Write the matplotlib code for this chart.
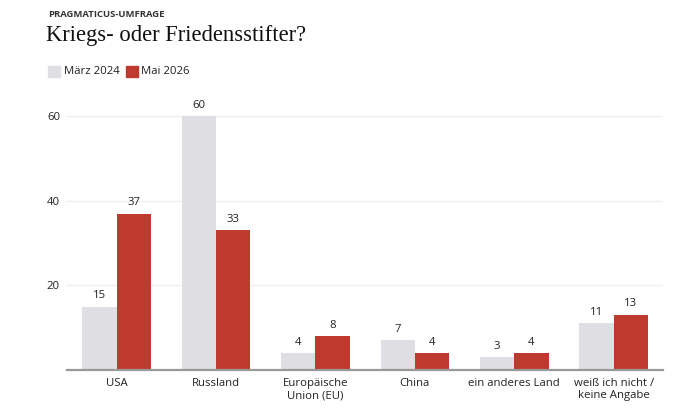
import numpy as np
import matplotlib
matplotlib.use("Agg")
import matplotlib.pyplot as plt
from matplotlib.patches import Rectangle

# Data
categories = ["USA", "Russland", "Europäische\nUnion (EU)", "China",
              "ein anderes Land", "weiß ich nicht /\nkeine Angabe"]
maerz_2024 = [15, 60, 4, 7, 3, 11]
mai_2026 = [37, 33, 8, 4, 4, 13]
series_names = ["März 2024", "Mai 2026"]
yticks = [20, 40, 60]

gray = "#dfdfe3"
red = "#bf3a2e"
text_col = "#222222"

plt.rcParams["font.family"] = ["Open Sans", "DejaVu Sans"]

fig = plt.figure(figsize=(6.8, 4.12), dpi=100)
ax = fig.add_axes([0.0985, 0.102, 0.877, 0.667])

x = np.arange(len(categories))
w = 0.345
b1 = ax.bar(x - w / 2, maerz_2024, w, color=gray, zorder=2)
b2 = ax.bar(x + w / 2, mai_2026, w, color=red, zorder=2)

for bars, vals in [(b1, maerz_2024), (b2, mai_2026)]:
    for bar, v in zip(bars, vals):
        ax.annotate(str(v), (bar.get_x() + bar.get_width() / 2, v),
                    xytext=(0, 4), textcoords="offset points",
                    ha="center", va="bottom", fontsize=8.2, color=text_col)

ax.set_xlim(-0.5, len(categories) - 0.5)
ax.set_ylim(0, 65)
ax.set_yticks(yticks)
ax.set_yticklabels([str(t) for t in yticks])
ax.set_xticks(x)
ax.set_xticklabels(categories, linespacing=1.1)
ax.tick_params(axis="both", length=0, labelsize=8.2, labelcolor=text_col)
ax.tick_params(axis="x", pad=6)
ax.tick_params(axis="y", pad=5)
ax.grid(axis="y", color="#efeff1", linewidth=1, zorder=0)
for s in ["top", "right", "left"]:
    ax.spines[s].set_visible(False)
ax.spines["bottom"].set_color("#999999")
ax.spines["bottom"].set_linewidth(1.6)
ax.spines["bottom"].set_zorder(3)

# header
fig.text(0.0705, 0.966, "PRAGMATICUS-UMFRAGE", fontsize=6.8, fontweight="bold",
         color="#333333", va="center")
fig.text(0.068, 0.915, "Kriegs- oder Friedensstifter?", fontsize=16.3,
         family=["Liberation Serif", "DejaVu Serif"], color="#111111", va="center")

# legend
for i, (name, col) in enumerate(zip(series_names, [gray, red])):
    x0 = [0.0705, 0.185][i]
    fig.patches.append(Rectangle((x0, 0.812), 0.0175, 0.029, transform=fig.transFigure,
                                 color=col, figure=fig))
    fig.text(x0 + 0.023, 0.826, name, fontsize=8.2, color=text_col, va="center")

fig.savefig("out.png", dpi=100)
